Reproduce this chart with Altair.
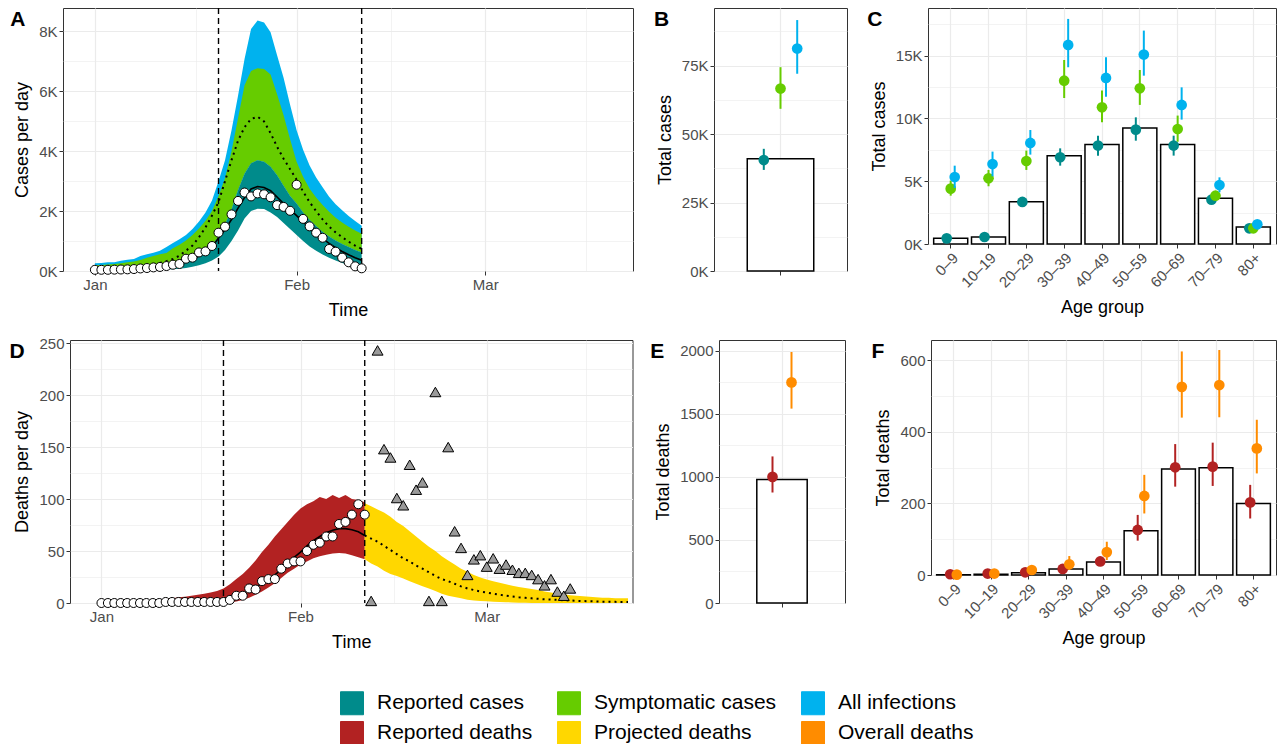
import json
import altair as alt
import pandas as pd

FONT = "Liberation Sans"
GRID = "#EBEBEB"
FRAME = "#333333"

TYPES = ["Reported cases", "Symptomatic cases", "All infections",
         "Reported deaths", "Projected deaths", "Overall deaths"]
COLORS = ["#008B8B", "#66CC00", "#00B2EE", "#B22222", "#FFD700", "#FF8C00"]

# ---------------- data (x = days since 1 January) ----------------
month_days = [0, 31, 60]
month_names = ["Jan", "Feb", "Mar"]
month_minor = [15.5, 45.5, 75.5]
phase_days = [19, 41]
X_DOMAIN = [-4.9, 82.7]

case_days = list(range(0, 42))
cases_obs = [40, 40, 40, 45, 50, 55, 65, 85, 100, 120,
             135, 165, 210, 235, 410, 445, 620, 655, 835, 1280,
             1480, 1890, 2340, 2620, 2490, 2590, 2560, 2460, 2200, 2140,
             2010, 2880, 1740, 1490, 1280, 1110, 735, 645, 445, 290,
             155, 90]
cases_fit = [22, 25, 30, 35, 42, 50, 60, 72, 88, 108,
             135, 165, 205, 255, 320, 400, 500, 630, 800, 1100,
             1380, 1720, 2100, 2450, 2740, 2820, 2790, 2680, 2470, 2250,
             2050, 1850, 1640, 1440, 1250, 1080, 920, 780, 650, 540,
             440, 360]
rep_lo = [20, 20, 22, 25, 28, 30, 32, 35, 38, 42,
          45, 50, 60, 75, 100, 140, 190, 260, 350, 480,
          700, 1000, 1350, 1750, 2000, 2080, 2070, 1950, 1800, 1600,
          1400, 1200, 1000, 820, 680, 550, 440, 350, 270, 200,
          150, 120]
rep_hi = [100, 105, 110, 115, 125, 140, 150, 170, 200, 215,
          235, 270, 310, 350, 400, 470, 560, 680, 850, 1150,
          1550, 2050, 2700, 3250, 3600, 3700, 3650, 3480, 3200, 2850,
          2500, 2250, 1950, 1700, 1500, 1300, 1150, 1020, 900, 800,
          700, 620]
sym_hi = [190, 200, 215, 230, 260, 290, 320, 370, 440, 500,
          560, 600, 760, 880, 1020, 1200, 1420, 1680, 2000, 2500,
          3100, 4000, 5100, 6200, 6680, 6770, 6740, 6560, 5900, 5200,
          4400, 3650, 3150, 2750, 2450, 2200, 1980, 1780, 1620, 1480,
          1350, 1240]
all_hi = [256, 270, 290, 295, 340, 378, 400, 500, 556, 610,
          680, 800, 935, 1060, 1200, 1400, 1650, 1950, 2350, 3000,
          3700, 4700, 5850, 7080, 8080, 8360, 8300, 7970, 7200, 6450,
          5550, 4700, 4050, 3520, 3120, 2800, 2480, 2230, 2030, 1840,
          1670, 1514]
sym_fit_days = list(range(10, 42))
sym_fit = [267, 330, 401, 512, 679, 846, 1124, 1458, 1850, 2300,
           3000, 3700, 4350, 4800, 5075, 5150, 4990, 4600, 4150, 3750,
           3400, 3050, 2650, 2300, 2000, 1720, 1480, 1290, 1130, 980,
           850, 735]

death_days = list(range(0, 42))
deaths_obs = [0] * 10 + [1] * 10 + [3, 7, 7, 14, 13, 21, 23, 23, 33, 38,
                                    40, 40, 50, 56, 58, 64, 64, 76, 78, 85,
                                    95, 85]
death_fit_days = list(range(10, 42))
deaths_fit = [0.5, 0.6, 0.8, 1.0, 1.2, 1.5, 2.0, 2.5, 3.3, 4.3,
              5.6, 7.3, 9.5, 12, 15, 19, 23, 27, 32, 38,
              44, 49, 55, 60, 64, 67.5, 70, 71.5, 71.5, 70.5,
              68.5, 65]
red_days = list(range(7, 42))
red_lo = [0] * 13 + [0.5, 1.5, 3, 5, 8, 11, 15, 19, 24, 29,
                     33, 37, 40, 43, 45, 46.5, 47.5, 48, 47.5, 46, 44, 42]
red_hi = [1.5, 2, 3, 4, 4.5, 5.5, 6, 7, 8, 9, 10, 11.5, 14,
          18, 23, 28, 34, 41, 49, 56, 64, 71, 78,
          85, 91, 95, 98, 102, 100, 104, 101, 104, 100, 99, 97]
proj_days = list(range(41, 83))
proj_lo = [42, 38, 35, 31, 28, 26, 23.5, 21, 18.5, 16,
           14, 11.5, 9, 7, 5.8, 4.5, 3.2, 2.5, 2, 1.6,
           1.3, 1, 0.8, 0.5, 0.3, 0.2, 0, 0, 0, 0,
           0, 0, 0, 0, 0, 0, 0, 0, 0, 0,
           0, 0]
proj_hi = [96, 93, 90, 87, 83, 78, 74, 69, 64, 59,
           54, 50, 45, 41, 37, 33, 30, 27, 24.5, 22.5,
           21, 19.5, 18, 16.5, 15.5, 14.5, 13.5, 12.5, 11, 10,
           9, 8.5, 7.5, 7, 6.5, 6, 5.5, 5, 5, 4.5,
           4.5, 4.5]
proj_mid = [65, 62, 59, 55, 51, 47, 43, 40, 36, 33,
            29.5, 26, 23, 21, 18.5, 16, 14, 12.5, 11, 10,
            9, 8, 7, 6.2, 5.5, 5, 4.5, 4, 3.6, 3.3,
            3, 2.7, 2.4, 2.1, 1.9, 1.7, 1.5, 1.3, 1.2, 1.1,
            1, 1]
tri_days = list(range(42, 74))
tri_vals = [2, 243, 148, 140, 101, 94, 133, 109, 116, 2,
            203, 2, 150, 69, 53, 27, 42, 46, 35, 43,
            33, 37, 32, 29, 29, 27, 23, 17, 23, 11,
            7, 14]

age_groups = ["0\u20139", "10\u201319", "20\u201329", "30\u201339", "40\u201349",
              "50\u201359", "60\u201369", "70\u201379", "80+"]
c_obs = [450, 560, 3370, 7040, 7920, 9250, 7920, 3640, 1350]
c_rep = [450, 560, 3350, 6910, 7840, 9110, 7840, 3530, 1250]
c_rep_lo = [380, 480, 3100, 6240, 7040, 8230, 7040, 3300, 1150]
c_rep_hi = [520, 640, 3600, 7620, 8630, 10090, 8630, 3800, 1380]
c_sym = [4410, 5230, 6610, 13010, 10890, 12400, 9160, 3850, 1250]
c_sym_lo = [3850, 4600, 5900, 11630, 9690, 11080, 8150, 3500, 1150]
c_sym_hi = [5050, 5900, 7440, 14660, 12220, 13860, 10230, 4200, 1380]
c_all = [5340, 6370, 8050, 15860, 13230, 15090, 11080, 4700, 1570]
c_all_lo = [4460, 5390, 7120, 14080, 11740, 13410, 9910, 4120, 1430]
c_all_hi = [6240, 7360, 9080, 17930, 14870, 17000, 12480, 5310, 1720]

f_obs = [1, 2, 6.5, 17, 36, 124, 296, 300, 200]
f_rep = [2, 4, 7.5, 17, 38, 126, 301, 303, 203]
f_rep_lo = [0.5, 1, 3, 10, 25, 96, 247, 249, 158]
f_rep_hi = [4, 7, 13, 26, 51, 168, 366, 370, 252]
f_ovr = [1, 4, 14, 30, 64, 221, 526, 531, 354]
f_ovr_lo = [0, 1, 8, 14, 42, 172, 440, 441, 284]
f_ovr_hi = [3, 8, 20, 53, 93, 280, 625, 629, 434]

b_obs = 41000
b_est = [40500, 66600, 81200]
b_lo = [36900, 59200, 72000]
b_hi = [44600, 74400, 91600]

e_obs = 980
e_est = [1000, 1749]
e_lo = [876, 1541]
e_hi = [1162, 1990]

# ---------------- styling helpers ----------------
color_scale = alt.Scale(domain=TYPES, range=COLORS)

AXIS_STYLE = dict(domain=False, grid=True, gridColor=GRID, tickColor=FRAME, tickSize=4,
                  tickWidth=1, labelColor="#4D4D4D", labelFont=FONT, labelFontSize=15,
                  labelPadding=2, labelOverlap=False, labelFlush=False, titleFont=FONT,
                  titleFontSize=18, titleFontWeight="normal", titleColor="black")


def cont_axis(majors, labels, minors, title, title_padding):
    test = "indexof(%s, datum.value) >= 0" % json.dumps(minors)
    expr = "''"
    for v, lab in zip(reversed(majors), reversed(labels)):
        expr = "datum.value === %s ? '%s' : (%s)" % (json.dumps(v), lab, expr)
    return alt.Axis(values=majors + minors, labelExpr=expr, title=title,
                    titlePadding=title_padding,
                    gridWidth={"condition": {"test": test, "value": 0.6}, "value": 1.2},
                    tickOpacity={"condition": {"test": test, "value": 0}, "value": 1},
                    **AXIS_STYLE)


def cat_axis(title, show_labels):
    return alt.Axis(title=title, labels=show_labels, labelAngle=-45 if show_labels else 0,
                    labelAlign="right", labelBaseline="top", gridWidth=1.2,
                    bandPosition=0.5, titlePadding=8, **AXIS_STYLE)


def tag(letter, dx, dy=0.5):
    return alt.Chart(pd.DataFrame({"tag": [letter]})).mark_text(
        font=FONT, fontSize=21, fontWeight="bold", align="left",
        baseline="top", color="black"
    ).encode(text="tag:N", x=alt.value(dx), y=alt.value(dy))


LEGEND = alt.Legend(title=None, orient="none", legendX=333, legendY=683, columns=3,
                    direction="horizontal", symbolType="square", symbolSize=529,
                    symbolStrokeColor="black", symbolStrokeWidth=1, symbolOpacity=1,
                    labelFont=FONT, labelFontSize=21, labelColor="black", labelLimit=500,
                    labelOffset=13, columnPadding=22, rowPadding=2, padding=0)


def col(legend=None):
    return alt.Color("type:N", scale=color_scale, legend=legend)


# ---------------- panel A ----------------
time_axis = cont_axis(month_days, month_names, month_minor, "Time", 9)
yA_axis = cont_axis([0, 2000, 4000, 6000, 8000], ["0K", "2K", "4K", "6K", "8K"],
                    [1000, 3000, 5000, 7000], "Cases per day", 7)
xsc = alt.Scale(domain=X_DOMAIN, nice=False, zero=False)


def xT(f):
    return alt.X(f + ":Q", scale=xsc, axis=time_axis)


def yA(f):
    return alt.Y(f + ":Q", scale=alt.Scale(domain=[0, 8780], nice=False), axis=yA_axis, stack=None)


bandA = pd.DataFrame({"day": case_days, "rep_lo": rep_lo, "rep_hi": rep_hi,
                      "sym_hi": sym_hi, "all_hi": all_hi, "obs": cases_obs, "fit": cases_fit})
symfit_df = pd.DataFrame({"day": sym_fit_days, "fit": sym_fit})
phase_df = pd.DataFrame({"day": phase_days})

baseA = alt.Chart(bandA)
a_all = baseA.transform_calculate(type="'All infections'").mark_area(opacity=1).encode(
    x=xT("day"), y=yA("rep_hi"), y2="all_hi:Q", color=col(LEGEND))
a_sym = baseA.transform_calculate(type="'Symptomatic cases'").mark_area(opacity=1).encode(
    x=xT("day"), y=yA("rep_hi"), y2="sym_hi:Q", color=col())
a_rep = baseA.transform_calculate(type="'Reported cases'").mark_area(opacity=1).encode(
    x=xT("day"), y=yA("rep_lo"), y2="rep_hi:Q", color=col())
a_symline = alt.Chart(symfit_df).mark_line(color="black", strokeWidth=2, strokeDash=[2, 4]).encode(
    x=xT("day"), y=yA("fit"))
a_fit = baseA.mark_line(color="black", strokeWidth=1.6).encode(x=xT("day"), y=yA("fit"))
a_rules = alt.Chart(phase_df).mark_rule(color="black", strokeWidth=1.4, strokeDash=[6, 4]).encode(
    x=xT("day"))
a_pts = baseA.mark_point(shape="circle", filled=True, fill="white", stroke="black",
                         strokeWidth=1, size=81, opacity=1).encode(x=xT("day"), y=yA("obs"))
A = alt.layer(a_all, a_sym, a_rep, a_symline, a_fit, a_rules, a_pts, tag("A", -52.7)).properties(
    width=570, height=263)

# ---------------- panel D ----------------
yD_axis = cont_axis([0, 50, 100, 150, 200, 250], ["0", "50", "100", "150", "200", "250"],
                    [25, 75, 125, 175, 225], "Deaths per day", 7)


def yD(f):
    return alt.Y(f + ":Q", scale=alt.Scale(domain=[0, 253], nice=False), axis=yD_axis, stack=None)


red_df = pd.DataFrame({"day": red_days, "lo": red_lo, "hi": red_hi})
proj_df = pd.DataFrame({"day": proj_days, "lo": proj_lo, "hi": proj_hi, "mid": proj_mid})
dobs_df = pd.DataFrame({"day": death_days, "obs": deaths_obs})
dfit_df = pd.DataFrame({"day": death_fit_days, "fit": deaths_fit})
tri_df = pd.DataFrame({"day": tri_days, "val": tri_vals})

d_red = alt.Chart(red_df).transform_calculate(type="'Reported deaths'").mark_area(opacity=1).encode(
    x=xT("day"), y=yD("lo"), y2="hi:Q", color=col())
d_yel = alt.Chart(proj_df).transform_calculate(type="'Projected deaths'").mark_area(opacity=1).encode(
    x=xT("day"), y=yD("lo"), y2="hi:Q", color=col())
d_fit = alt.Chart(dfit_df).mark_line(color="black", strokeWidth=1.6).encode(x=xT("day"), y=yD("fit"))
d_mid = alt.Chart(proj_df).mark_line(color="black", strokeWidth=2, strokeDash=[2, 4]).encode(
    x=xT("day"), y=yD("mid"))
d_rules = alt.Chart(phase_df).mark_rule(color="black", strokeWidth=1.4, strokeDash=[6, 4]).encode(
    x=xT("day"))
d_tri = alt.Chart(tri_df).mark_point(shape="triangle-up", filled=True, fill="#9A9A9A", stroke="black",
                                     strokeWidth=1, size=120, opacity=1).encode(x=xT("day"), y=yD("val"))
d_pts = alt.Chart(dobs_df).mark_point(shape="circle", filled=True, fill="white", stroke="black",
                                      strokeWidth=1, size=81, opacity=1).encode(x=xT("day"), y=yD("obs"))
D = alt.layer(d_red, d_yel, d_fit, d_mid, d_rules, d_tri, d_pts, tag("D", -60.5)).properties(
    width=562.5, height=263)


# ---------------- totals panels ----------------
def totals_panel(obs_df, est_df, types, dodges, xfield, xscale, xaxis, yscale, yaxis, letter, dx,
                 w, h):
    def X():
        return alt.X(xfield + ":N", scale=xscale, axis=xaxis, sort=list(obs_df[xfield]))

    def Y(f):
        return alt.Y(f + ":Q", scale=yscale, axis=yaxis)

    layers = [alt.Chart(obs_df).mark_bar(fill="white", stroke="black", strokeWidth=1.5,
                                         opacity=1).encode(x=X(), y=Y("value"))]
    for t, d in zip(types, dodges):
        sub = alt.Chart(est_df).transform_filter(alt.datum.type == t)
        layers.append(sub.mark_rule(strokeWidth=2, xOffset=d).encode(
            x=X(), y=Y("lo"), y2="hi:Q", color=col()))
        layers.append(sub.mark_circle(size=114, opacity=1, xOffset=d).encode(
            x=X(), y=Y("est"), color=col()))
    layers.append(tag(letter, dx))
    return alt.layer(*layers).properties(width=w, height=h)


# B
b_obs_df = pd.DataFrame({"grp": ["total"], "value": [b_obs]})
b_est_df = pd.DataFrame({"grp": ["total"] * 3, "type": TYPES[:3], "est": b_est, "lo": b_lo, "hi": b_hi})
B = totals_panel(b_obs_df, b_est_df, TYPES[:3], [-16.7, 0, 16.7], "grp",
                 alt.Scale(paddingInner=0, paddingOuter=0.5), cat_axis(None, False),
                 alt.Scale(domain=[0, 96000], nice=False),
                 cont_axis([0, 25000, 50000, 75000], ["0K", "25K", "50K", "75K"],
                           [12500, 37500, 62500, 87500], "Total cases", 7),
                 "B", -60, 133, 263)

# C
c_obs_df = pd.DataFrame({"age": age_groups, "value": c_obs})
c_est_df = pd.DataFrame({
    "age": age_groups * 3,
    "type": [TYPES[0]] * 9 + [TYPES[1]] * 9 + [TYPES[2]] * 9,
    "est": c_rep + c_sym + c_all,
    "lo": c_rep_lo + c_sym_lo + c_all_lo,
    "hi": c_rep_hi + c_sym_hi + c_all_hi,
})
C = totals_panel(c_obs_df, c_est_df, TYPES[:3], [-4, 0, 4], "age",
                 alt.Scale(paddingInner=0.1, paddingOuter=0.15), cat_axis("Age group", True),
                 alt.Scale(domain=[0, 18800], nice=False),
                 cont_axis([0, 5000, 10000, 15000], ["0K", "5K", "10K", "15K"],
                           [2500, 7500, 12500, 17500], "Total cases", 7),
                 "C", -60.7, 348, 236)

# E
e_obs_df = pd.DataFrame({"grp": ["total"], "value": [e_obs]})
e_est_df = pd.DataFrame({"grp": ["total"] * 2, "type": [TYPES[3], TYPES[5]], "est": e_est,
                         "lo": e_lo, "hi": e_hi})
E = totals_panel(e_obs_df, e_est_df, [TYPES[3], TYPES[5]], [-9.5, 9.5], "grp",
                 alt.Scale(paddingInner=0, paddingOuter=0.75), cat_axis(None, False),
                 alt.Scale(domain=[0, 2085], nice=False),
                 cont_axis([0, 500, 1000, 1500, 2000], ["0", "500", "1000", "1500", "2000"],
                           [250, 750, 1250, 1750], "Total deaths", 7),
                 "E", -68.7, 126, 263)

# F
f_obs_df = pd.DataFrame({"age": age_groups, "value": f_obs})
f_est_df = pd.DataFrame({
    "age": age_groups * 2,
    "type": [TYPES[3]] * 9 + [TYPES[5]] * 9,
    "est": f_rep + f_ovr,
    "lo": f_rep_lo + f_ovr_lo,
    "hi": f_rep_hi + f_ovr_hi,
})
F = totals_panel(f_obs_df, f_est_df, [TYPES[3], TYPES[5]], [-3.3, 3.3], "age",
                 alt.Scale(paddingInner=0.1, paddingOuter=0.15), cat_axis("Age group", True),
                 alt.Scale(domain=[0, 657], nice=False),
                 cont_axis([0, 200, 400, 600], ["0", "200", "400", "600"],
                           [100, 300, 500], "Total deaths", 7),
                 "F", -59.4, 345, 235)


# ---------------- layout ----------------
def spacer():
    # invisible 1x1 cell that anchors each row at the same left edge
    return alt.Chart(pd.DataFrame({"v": [0]})).mark_rect(opacity=0).encode(
        x=alt.value(0), x2=alt.value(1), y=alt.value(0), y2=alt.value(1)
    ).properties(width=1, height=1, view=alt.ViewBackground(stroke="transparent"))


top = alt.hconcat(spacer(), alt.hconcat(A, B, C, spacing=81, bounds="flush"), spacing=0)
bottom = alt.hconcat(spacer(), alt.hconcat(D, E, F, spacing=86, bounds="flush"), spacing=0)

chart = alt.concat(top, bottom, columns=1, align="none", spacing=15).properties(
    padding={"left": 6, "top": 6, "right": 2, "bottom": 0}
).configure(font=FONT, background="white").configure_view(stroke=FRAME, strokeWidth=1)

chart.save("out.html", embed_options={"renderer": "svg", "actions": False})
